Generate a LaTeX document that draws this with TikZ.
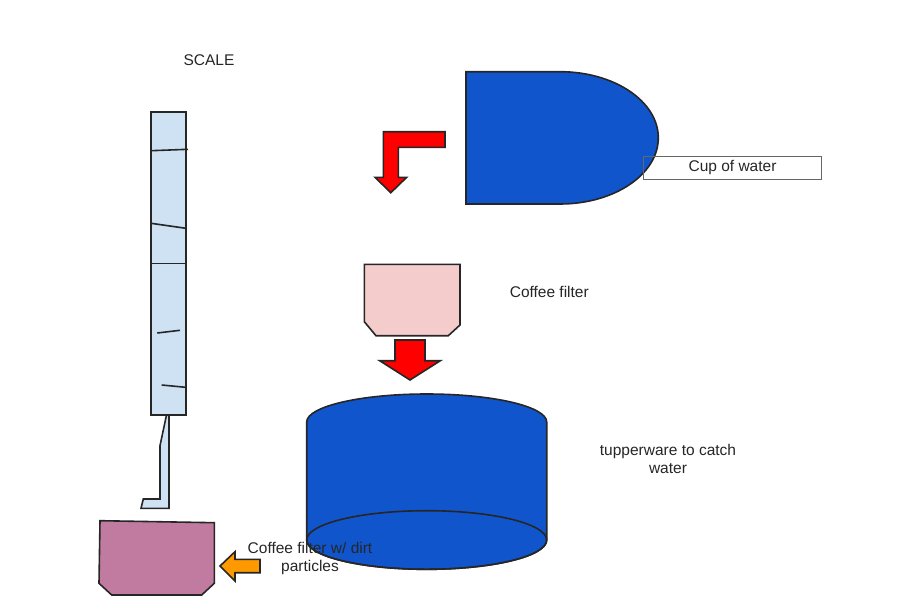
\documentclass[tikz,border=0pt]{standalone}
\usepackage{fontspec}
\usepackage{xcolor}
\setmainfont{Liberation Sans}
\definecolor{waterblue}{HTML}{1155CC}
\definecolor{scaleblue}{HTML}{CFE2F3}
\definecolor{filterpink}{HTML}{F4CCCC}
\definecolor{dirtpurple}{HTML}{C27BA0}
\definecolor{arrowred}{HTML}{FF0000}
\definecolor{arroworange}{HTML}{FF9900}
\tikzset{
    shape-outline/.style = {draw=black!85, line width=1.6pt, line join=miter},
    scale-mark/.style = {draw=black!85, line width=1.6pt},
    label-text/.style = {font=\fontsize{15.5}{18}\selectfont, text=black!85, align=center, inner sep=0pt},
}

\begin{document}
\begin{tikzpicture}[x=1pt, y=-1pt]
\useasboundingbox (0,0) rectangle (900,600);
\fill[white] (0,0) rectangle (900,600);

% scale with its marks and stem
\node[label-text] (scale-title) at (209,60) {SCALE};
\draw[shape-outline, fill=scaleblue] (150.7,111.7) rectangle (185.7,415);
\draw[scale-mark] (151,150.7) -- (188,149.3);
\draw[scale-mark] (151,223.3) -- (186,228.3);
\draw[scale-mark] (151,263.3) -- (185.7,263.3);
\draw[scale-mark] (157.3,333) -- (180,330.3);
\draw[scale-mark] (161.7,385) -- (185.7,387.3);
\draw[shape-outline, fill=scaleblue] (169,415) -- (169,508.3) -- (141,508.3) -- (143.3,499) -- (160,499) -- (160,445.7) -- (166.5,415) -- cycle;

% cup of water
\draw[shape-outline, fill=waterblue] (466,71.7) -- (560,71.7) arc[start angle=-90, end angle=90, x radius=98.3, y radius=66.15] -- (466,204) -- cycle;
\node[label-text, draw=black!60, line width=0.9pt, minimum width=178pt, minimum height=22.3pt] (cup-label) at (732.5,167.8) {Cup of water};
\draw[shape-outline, fill=arrowred] (445,131.7) -- (383.3,131.7) -- (383.3,177.3) -- (375,177.3) -- (390.8,192.7) -- (406.7,177.3) -- (398.3,177.3) -- (398.3,147.3) -- (445,147.3) -- cycle;

% coffee filter
\draw[shape-outline, fill=filterpink] (364.3,264.3) -- (460,264.3) -- (460,325) -- (448.3,335.7) -- (376,335.7) -- (364.3,321.7) -- cycle;
\node[label-text] (filter-label) at (549.3,291.7) {Coffee filter};
\draw[shape-outline, fill=arrowred] (395,340) -- (425,340) -- (425,360.7) -- (440.3,360.7) -- (410,380) -- (379.7,360.7) -- (395,360.7) -- cycle;

% tupperware
\draw[shape-outline, fill=waterblue] (306.7,422) arc[start angle=180, end angle=360, x radius=120, y radius=28] -- (546.7,540) arc[start angle=0, end angle=180, x radius=120, y radius=29.3] -- cycle;
\draw[shape-outline] (426.7,540) ellipse[x radius=120, y radius=29.3];
\node[label-text] (tub-label) at (668,459) {tupperware to catch\\water};

% used filter
\draw[shape-outline, fill=dirtpurple] (100,520.7) -- (214.3,522.7) -- (214.3,583.3) -- (201.7,595) -- (111.7,595) -- (99,583.3) -- cycle;
\draw[shape-outline, fill=arroworange] (260,559.3) -- (235,559.3) -- (235,551.7) -- (220,566) -- (235,581) -- (235,572.7) -- (260,572.7) -- cycle;
\node[label-text] (dirt-label) at (310,558) {Coffee filter w/ dirt\\particles};
\end{tikzpicture}
\end{document}
